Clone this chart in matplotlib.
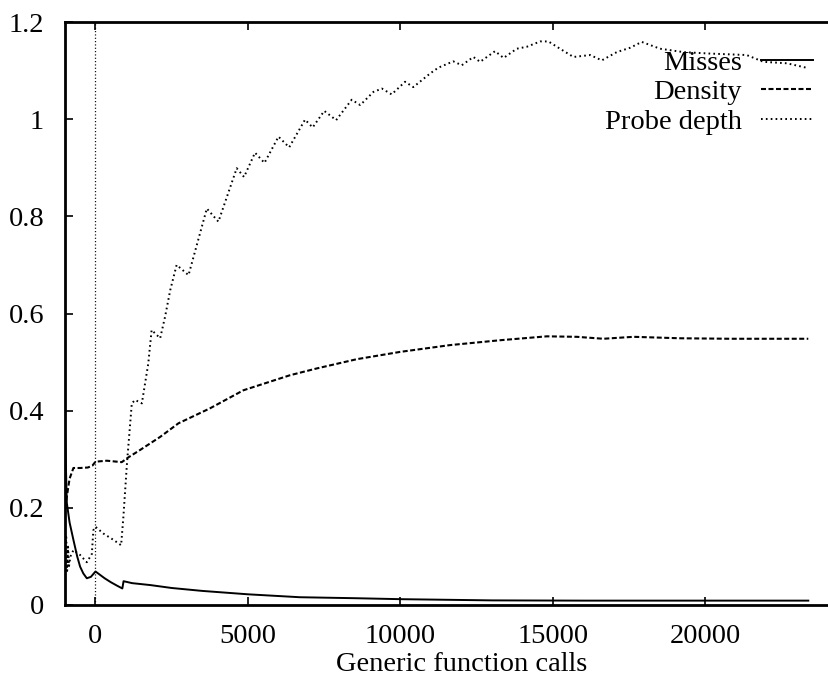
import matplotlib
matplotlib.use("Agg")
import matplotlib.pyplot as plt

# values
misses_x = [-1000, -940, -850, -724, -600, -505, -400, -285, -150, 0, 150, 300, 500, 700,
            880, 920, 1200, 1800, 2500, 3500, 5000, 6700, 8500, 10000, 13000, 16000, 20000, 23370]
misses_y = [0.36, 0.21, 0.17, 0.134, 0.10, 0.079, 0.065, 0.055, 0.058, 0.069, 0.062, 0.055, 0.047, 0.04,
            0.034, 0.049, 0.045, 0.041, 0.035, 0.029, 0.022, 0.016, 0.014, 0.012, 0.0095, 0.009, 0.009, 0.009]

density_x = [-1000, -940, -850, -724, -500, -250, -100, 0, 370, 700, 860, 1080, 1460, 2120, 2720,
             3760, 4850, 6380, 7260, 8570, 9990, 11630, 13270, 14800, 15780, 16650, 17640, 19170,
             20810, 23370]
density_y = [0.20, 0.223, 0.26, 0.282, 0.282, 0.283, 0.287, 0.295, 0.297, 0.295, 0.294, 0.304, 0.319,
             0.346, 0.374, 0.405, 0.442, 0.473, 0.487, 0.506, 0.521, 0.535, 0.545, 0.553, 0.552, 0.548,
             0.552, 0.549, 0.548, 0.548]

probe_x = [-1000, -960, -930, -900, -870, -820, -724, -505, -285, -120, -70, 0, 260, 590, 840, 915,
           1030, 1190, 1300, 1520, 1730, 1840, 2120, 2280, 2450, 2660, 3050, 3650, 4030, 4630, 4870,
           5230, 5540, 6000, 6350, 6870, 7120, 7500, 7890, 8400, 8680, 9110, 9390, 9710, 10150,
           10420, 10970, 11240, 11730, 12010, 12390, 12610, 13100, 13380, 13810, 14140, 14580,
           14850, 15230, 15670, 16220, 16600, 17090, 17530, 17910, 18510, 19280, 20150, 21350,
           21900, 22670, 23370]
probe_y = [0.10, 0.14, 0.07, 0.12, 0.08, 0.10, 0.113, 0.103, 0.088, 0.105, 0.154, 0.161, 0.147, 0.134,
           0.123, 0.182, 0.29, 0.415, 0.422, 0.415, 0.497, 0.566, 0.549, 0.593, 0.648, 0.70, 0.679,
           0.816, 0.789, 0.899, 0.881, 0.931, 0.910, 0.964, 0.942, 0.999, 0.983, 1.017, 0.998, 1.04,
           1.029, 1.056, 1.063, 1.051, 1.077, 1.066, 1.094, 1.106, 1.119, 1.111, 1.128, 1.118, 1.140,
           1.126, 1.145, 1.149, 1.160, 1.160, 1.145, 1.128, 1.132, 1.121, 1.138, 1.147, 1.159, 1.145,
           1.138, 1.135, 1.132, 1.118, 1.115, 1.105]

xticks = [0, 5000, 10000, 15000, 20000]
yticks = [0, 0.2, 0.4, 0.6, 0.8, 1.0, 1.2]
ytick_labels = ["0", "0.2", "0.4", "0.6", "0.8", "1", "1.2"]

plt.rcParams['font.family'] = ['Liberation Serif', 'DejaVu Serif']
plt.rcParams['lines.scale_dashes'] = False
fs = 20.5

fig = plt.figure(figsize=(8.29, 6.78), dpi=100)
# right edge of the axes lies past the picture, as in the cropped original
ax = fig.add_axes([65 / 829, 73 / 678, 793 / 829, 583 / 678])

ax.plot(misses_x, misses_y, color='black', lw=1.4, label='Misses')
ax.plot(density_x, density_y, color='black', lw=1.5, ls=(0, (3.6, 1.8)), label='Density')
ax.plot(probe_x, probe_y, color='black', lw=1.4, ls=(0, (1.2, 2.3)), label='Probe depth')
ax.axvline(0, color='black', lw=0.9, ls=(0, (0.8, 1.6)))

ax.set_xlim(-1000, 25000)
ax.set_ylim(0, 1.2)
ax.set_xticks(xticks)
ax.set_xticklabels([str(t) for t in xticks])
ax.set_yticks(yticks)
ax.set_yticklabels(ytick_labels)
ax.tick_params(direction='in', length=5.5, width=1.2, labelsize=fs,
               top=True, right=False)
ax.tick_params(axis='x', pad=14)
ax.tick_params(axis='y', pad=15)
for s in ax.spines.values():
    s.set_linewidth(2)
ax.spines['right'].set_visible(False)

ax.set_xlabel("Generic function calls", fontsize=fs, labelpad=1.5)

leg = ax.legend(loc='upper right', bbox_to_anchor=(813 / 829, 1 - 50 / 678),
                bbox_transform=fig.transFigure, frameon=False, fontsize=fs,
                markerfirst=False, handlelength=1.83, handletextpad=0.67,
                labelspacing=0.12, borderpad=0, borderaxespad=0)

fig.savefig("out.png", dpi=100)
